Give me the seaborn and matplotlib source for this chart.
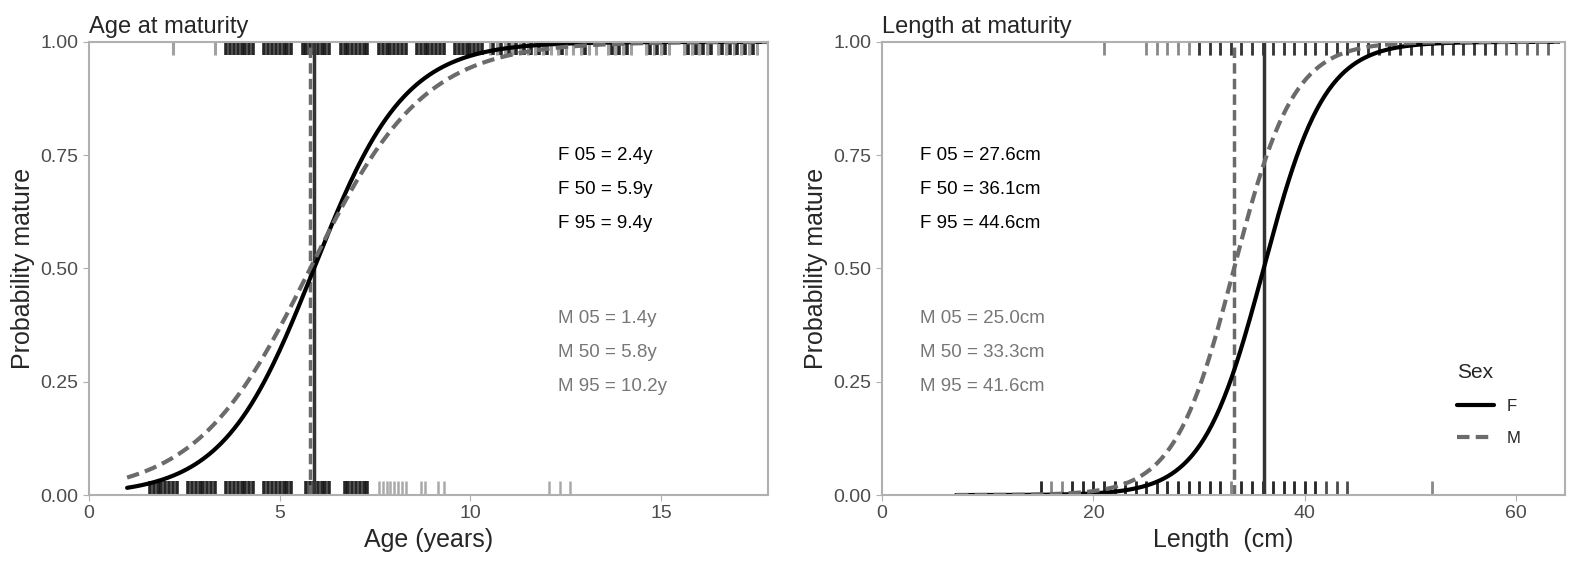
import numpy as np
import pandas as pd
import matplotlib
matplotlib.use("Agg")
import matplotlib.pyplot as plt
import seaborn as sns

sns.set_style("white")
plt.rcParams['font.family'] = ['Liberation Sans', 'DejaVu Sans']

# maturity parameters (read from annotations)
age_f = {"05": 2.4, "50": 5.9, "95": 9.4}
age_m = {"05": 1.4, "50": 5.8, "95": 10.2}
len_f = {"05": 27.6, "50": 36.1, "95": 44.6}
len_m = {"05": 25.0, "50": 33.3, "95": 41.6}

# rug observations: immature (y=0) and mature (y=1)
age_immature = [1.6, 1.7, 1.8, 1.9, 2.0, 2.1, 2.2, 2.3,
                2.6, 2.7, 2.8, 2.9, 3.0, 3.1, 3.2, 3.3,
                3.6, 3.7, 3.8, 3.9, 4.0, 4.1, 4.2, 4.3,
                4.6, 4.7, 4.8, 4.9, 5.0, 5.1, 5.2, 5.3,
                5.7, 5.8, 5.9, 6.0, 6.1, 6.2, 6.3,
                6.7, 6.8, 6.9, 7.0, 7.1, 7.2, 7.3]
age_immature_light = [7.6, 7.7, 7.8, 7.9, 8.0, 8.1, 8.2, 8.3, 8.7, 8.8,
                      9.15, 9.3, 12.05, 12.35, 12.6]
age_mature_light = [2.2, 3.3, 10.5, 10.7, 10.9, 11.1, 11.3, 11.5, 11.7, 11.9,
                    12.1, 12.3, 12.5, 12.7, 12.9, 13.1, 13.3, 13.6, 13.8, 14.0,
                    14.2, 14.6, 14.8, 15.0, 15.2, 15.6, 15.8, 16.0, 16.2,
                    16.5, 16.7, 16.9, 17.1, 17.3, 17.5]
age_mature = [3.6, 3.7, 3.8, 3.9, 4.0, 4.1, 4.2, 4.3,
              4.6, 4.7, 4.8, 4.9, 5.0, 5.1, 5.2, 5.3,
              5.6, 5.7, 5.8, 5.9, 6.0, 6.1, 6.2, 6.3,
              6.6, 6.7, 6.8, 6.9, 7.0, 7.1, 7.2, 7.3,
              7.6, 7.7, 7.8, 7.9, 8.0, 8.1, 8.2, 8.3,
              8.6, 8.7, 8.8, 8.9, 9.0, 9.1, 9.2, 9.3,
              9.6, 9.7, 9.8, 9.9, 10.0, 10.1, 10.2, 10.3,
              10.6, 10.8, 11.0, 11.2, 11.4, 11.6, 11.8, 12.0, 12.4, 13.0,
              13.7, 13.9, 14.1, 14.7, 14.9, 15.1, 15.7, 15.9, 16.1, 16.3,
              16.6, 16.8, 17.0, 17.2, 17.4]

len_immature_m = [15, 16, 17, 18, 19, 20, 21, 22, 23, 24, 25, 26, 27, 28, 29, 30,
                  31, 32, 33, 34, 35, 36, 37, 38, 39, 40, 41, 52]
len_immature_f = [15, 18, 19, 20, 21, 22, 23, 24, 25, 26, 27, 28, 29, 30, 31, 32,
                  34, 35, 36, 37, 38, 39, 40, 41, 42, 43, 44]
len_mature_m = [21, 25, 26, 27, 28, 29, 30, 31, 32, 33, 34, 35, 36, 37, 38, 39, 40,
                41, 42, 43, 44, 45, 46, 47, 48, 49, 50, 51, 52, 53, 54, 55, 56, 57, 58]
len_mature_f = [30, 31, 32, 33, 34, 35, 36, 37, 38, 39, 40, 41, 42, 43, 44, 45, 46,
                47, 48, 49, 50, 51, 52, 53, 54, 55, 56, 57, 58, 59, 60, 61, 62, 63]

F_COL, M_COL, FRAME = "black", "#6b6b6b", "#b0b0b0"


def logistic_curve(p, xmin, xmax, sex):
    x = np.linspace(xmin, xmax, 300)
    k = np.log(19) / (p["95"] - p["50"])
    return pd.DataFrame({"x": x, "y": 1 / (1 + np.exp(-k * (x - p["50"]))), "Sex": sex})


def rug(ax, vals, top, color, alpha, lw=1.2):
    y0, y1 = (0.97, 1.0) if top else (0.0, 0.03)
    ax.vlines(vals, y0, y1, color=color, alpha=alpha, lw=lw,
              transform=ax.get_xaxis_transform())


fig = plt.figure(figsize=(15.94, 5.73), dpi=100)
ax1 = fig.add_axes([0.0558, 0.136, 0.426, 0.791])
ax2 = fig.add_axes([0.5533, 0.136, 0.4285, 0.791])

# ---- age panel
rug(ax1, age_immature, False, "black", 0.85, lw=2.6)
rug(ax1, age_immature_light, False, "#555555", 0.5, lw=1.8)
rug(ax1, age_mature, True, "black", 0.85, lw=2.6)
rug(ax1, age_mature_light, True, "#555555", 0.55, lw=2.2)
ax1.axvline(age_f["50"], color="#333333", lw=2.5)
ax1.axvline(age_m["50"], color=M_COL, lw=2.5, ls=(0, (3, 1.5)))
df_age = pd.concat([logistic_curve(age_f, 1, 17.8, "F"), logistic_curve(age_m, 1, 17.8, "M")])
sns.lineplot(data=df_age, x="x", y="y", hue="Sex", style="Sex",
             palette={"F": F_COL, "M": M_COL}, dashes={"F": "", "M": (3, 1.5)},
             lw=3, ax=ax1, legend=False)
ax1.set_xlim(0, 17.8)
ax1.set_xticks([0, 5, 10, 15])
ax1.set_xlabel("Age (years)")
ax1.set_title("Age at maturity", loc="left", fontsize=17, pad=6)
for i, q in enumerate(["05", "50", "95"]):
    ax1.text(12.3, 0.75 - 0.075 * i, f"F {q} = {age_f[q]}y", color="black", fontsize=13.5, va="center")
    ax1.text(12.3, 0.39 - 0.075 * i, f"M {q} = {age_m[q]}y", color="#777777", fontsize=13.5, va="center")

# ---- length panel
rug(ax2, len_immature_m, False, M_COL, 0.8, lw=2)
rug(ax2, len_immature_f, False, "black", 0.7, lw=2)
rug(ax2, len_mature_m, True, M_COL, 0.8, lw=2)
rug(ax2, len_mature_f, True, "black", 0.6, lw=2)
ax2.axvline(len_f["50"], color="#333333", lw=2.5)
ax2.axvline(len_m["50"], color=M_COL, lw=2.5, ls=(0, (3, 1.5)))
df_len = pd.concat([logistic_curve(len_f, 7, 64, "F"), logistic_curve(len_m, 7, 64, "M")])
sns.lineplot(data=df_len, x="x", y="y", hue="Sex", style="Sex",
             palette={"F": F_COL, "M": M_COL}, dashes={"F": "", "M": (3, 1.5)},
             lw=3, ax=ax2)
ax2.set_xlim(0, 64.6)
ax2.set_xticks([0, 20, 40, 60])
ax2.set_xlabel("Length  (cm)")
ax2.set_title("Length at maturity", loc="left", fontsize=17, pad=6)
for i, q in enumerate(["05", "50", "95"]):
    ax2.text(3.6, 0.75 - 0.075 * i, f"F {q} = {len_f[q]}cm", color="black", fontsize=13.5, va="center")
    ax2.text(3.6, 0.39 - 0.075 * i, f"M {q} = {len_m[q]}cm", color="#777777", fontsize=13.5, va="center")
leg = ax2.legend(title="Sex", frameon=False, fontsize=12, title_fontsize=15,
                 loc="center left", bbox_to_anchor=(0.82, 0.2), handlelength=2.2,
                 labelspacing=1.0, alignment="left")

for ax in (ax1, ax2):
    ax.set_ylim(0, 1)
    ax.set_yticks([0, 0.25, 0.5, 0.75, 1.0])
    ax.set_yticklabels(["0.00", "0.25", "0.50", "0.75", "1.00"])
    ax.set_ylabel("Probability mature", fontsize=18)
    ax.xaxis.label.set_size(18)
    ax.tick_params(axis="both", labelsize=14, colors="#4d4d4d", length=4, left=True, bottom=True,
                   color=FRAME, labelcolor="#4d4d4d")
    for s in ax.spines.values():
        s.set_color(FRAME)
        s.set_linewidth(1.5)

fig.savefig("out.png", dpi=100)
